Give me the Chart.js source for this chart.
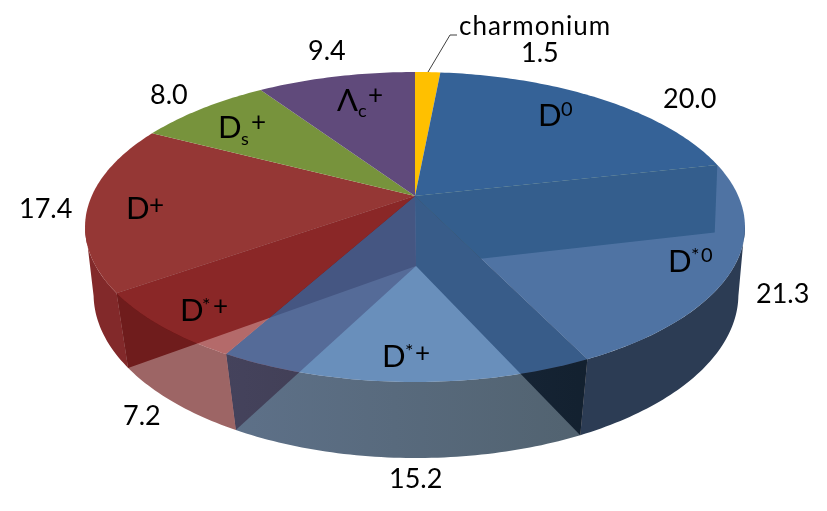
<!DOCTYPE html>
<html lang="en">
<head>
  <meta charset="UTF-8" />
  <title>Charm fractions</title>
  <script src="https://cdn.jsdelivr.net/npm/chart.js"></script>
  <style>
    html, body { margin: 0; background: #fff; }
    canvas { display: block; }
  </style>
</head>
<body>
  <canvas id="pie3d" width="827" height="511"></canvas>

  <script>
    const categories = ['charmonium', 'D0', 'D*0', 'D*+', 'D*+', 'D+', 'Ds+', 'Λc+'];
    const values = [1.5, 20.0, 21.3, 15.2, 7.2, 17.4, 8.0, 9.4];

    // slice colours: top face, outer side, radial wall at the end of the slice
    const topColors = ['#FFC000', '#356297', 'rgba(48,90,147,.85)', 'rgba(60,109,166,.77)',
                       'rgba(152,51,51,.73)', '#953735', '#77933C', '#604A7B'];
    const sideColors = [null, null, '#2C3C54', 'rgba(20,46,74,.7)', 'rgba(116,35,35,.7)', '#82292A', null, null];
    const wallColors = [null, 'rgb(73,117,107)', 'rgb(45,35,40)', 'rgb(170,100,105)', 'rgb(100,10,10)', null, null, null];

    // where the value numbers sit (left x, baseline y), same order as values
    const valueSpots = [[521, 62], [663, 108], [756, 303], [389, 488], [123, 425], [19, 218], [150, 104], [308, 60]];

    // slice names, each one a list of [text, x, baseline, font size]
    const nameParts = [
      [['charmonium', 459, 35, 26]],
      [['D', 538, 126, 31], ['0', 561, 116, 20]],
      [['D', 668, 272, 31], ['*', 691, 262, 20], ['0', 701, 262, 20]],
      [['D', 382, 367, 31], ['*', 405, 358, 20], ['+', 415, 362, 26]],
      [['D', 180, 321, 31], ['*', 202, 312, 20], ['+', 213, 315, 26]],
      [['D', 126, 219, 31], ['+', 149, 214, 26]],
      [['D', 218, 138, 31], ['s', 241, 145, 18], ['+', 251, 131, 26]],
      [['Λ', 337, 111, 31], ['c', 358, 117, 18], ['+', 368, 104, 26]]
    ];

    const leader = [[428, 72], [450, 35], [457, 35]];

    // the disc seen in perspective, u = sin, v = cos of the angle from the top
    const topDisc = { x: 415, y: 196, r: 323.3, s: 148.8, a: 0.2 };
    const lowDisc = { x: 416, y: 266, r: 317.6, s: 159, a: 0.172 };
    const sideFrom = 100.5 * Math.PI / 180;
    const sideTo = 259.5 * Math.PI / 180;

    function rim(disc, th) {
      const w = 1 + disc.a * Math.cos(th);
      return [disc.x + disc.r * Math.sin(th) / w, disc.y - disc.s * Math.cos(th) / w];
    }

    function arcPoints(disc, from, to) {
      const pts = [];
      const n = Math.max(2, Math.ceil(Math.abs(to - from) * 60));
      for (let i = 0; i <= n; i++) pts.push(rim(disc, from + (to - from) * i / n));
      return pts;
    }

    function fillPoly(ctx, pts, color) {
      ctx.beginPath();
      pts.forEach((p, i) => i ? ctx.lineTo(p[0], p[1]) : ctx.moveTo(p[0], p[1]));
      ctx.closePath();
      ctx.fillStyle = color;
      ctx.fill();
    }

    function isOpaque(color) {
      return color[0] === '#';
    }

    const pie3d = {
      id: 'pie3d',
      beforeDatasetsDraw(chart) {
        const ctx = chart.ctx;
        const arcs = chart.getDatasetMeta(0).data.map(el => ({
          from: el.startAngle + Math.PI / 2,
          to: el.endAngle + Math.PI / 2,
          color: el.options.backgroundColor
        }));

        const drawTop = (arc) => fillPoly(ctx, [[topDisc.x, topDisc.y], ...arcPoints(topDisc, arc.from, arc.to)], arc.color);

        const drawSide = (arc, i) => {
          const from = Math.max(arc.from, sideFrom);
          const to = Math.min(arc.to, sideTo);
          if (!sideColors[i] || to <= from) return;
          let color = sideColors[i];
          if (i === 3) {
            color = ctx.createLinearGradient(235, 0, 580, 0);
            color.addColorStop(0, 'rgba(25,52,86,.7)');
            color.addColorStop(1, 'rgba(8,32,51,.7)');
          }
          fillPoly(ctx, [...arcPoints(topDisc, from, to), ...arcPoints(lowDisc, to, from)], color);
        };

        arcs.forEach((arc, i) => { if (isOpaque(arc.color)) drawSide(arc, i); });
        drawSide(arcs[2], 2);
        arcs.forEach(arc => { if (isOpaque(arc.color)) drawTop(arc); });

        arcs.forEach((arc, i) => {
          if (!wallColors[i]) return;
          fillPoly(ctx, [[topDisc.x, topDisc.y], rim(topDisc, arc.to), rim(lowDisc, arc.to), [lowDisc.x, lowDisc.y]], wallColors[i]);
        });

        drawSide(arcs[3], 3);
        drawSide(arcs[4], 4);
        arcs.forEach(arc => { if (!isOpaque(arc.color)) drawTop(arc); });
        return false;
      },
      afterDraw(chart) {
        const ctx = chart.ctx;
        ctx.save();
        ctx.strokeStyle = '#404040';
        ctx.lineWidth = 1;
        ctx.beginPath();
        leader.forEach((p, i) => i ? ctx.lineTo(p[0], p[1]) : ctx.moveTo(p[0], p[1]));
        ctx.stroke();

        ctx.fillStyle = '#000';
        ctx.textBaseline = 'alphabetic';
        values.forEach((v, i) => {
          ctx.font = '27px Lato';
          ctx.fillText(v.toFixed(1), valueSpots[i][0], valueSpots[i][1]);
        });
        nameParts.forEach(parts => parts.forEach(([text, x, y, size]) => {
          ctx.font = size + 'px Lato';
          ctx.letterSpacing = text === 'charmonium' ? '1px' : '0px';
          ctx.fillText(text, x, y);
        }));
        ctx.restore();
      }
    };

    new Chart(document.getElementById('pie3d'), {
      type: 'pie',
      data: {
        labels: categories,
        datasets: [{
          data: values,
          backgroundColor: topColors,
          borderWidth: 0
        }]
      },
      options: {
        responsive: false,
        animation: false,
        plugins: { legend: { display: false }, tooltip: { enabled: false } }
      },
      plugins: [pie3d]
    });
  </script>
</body>
</html>
